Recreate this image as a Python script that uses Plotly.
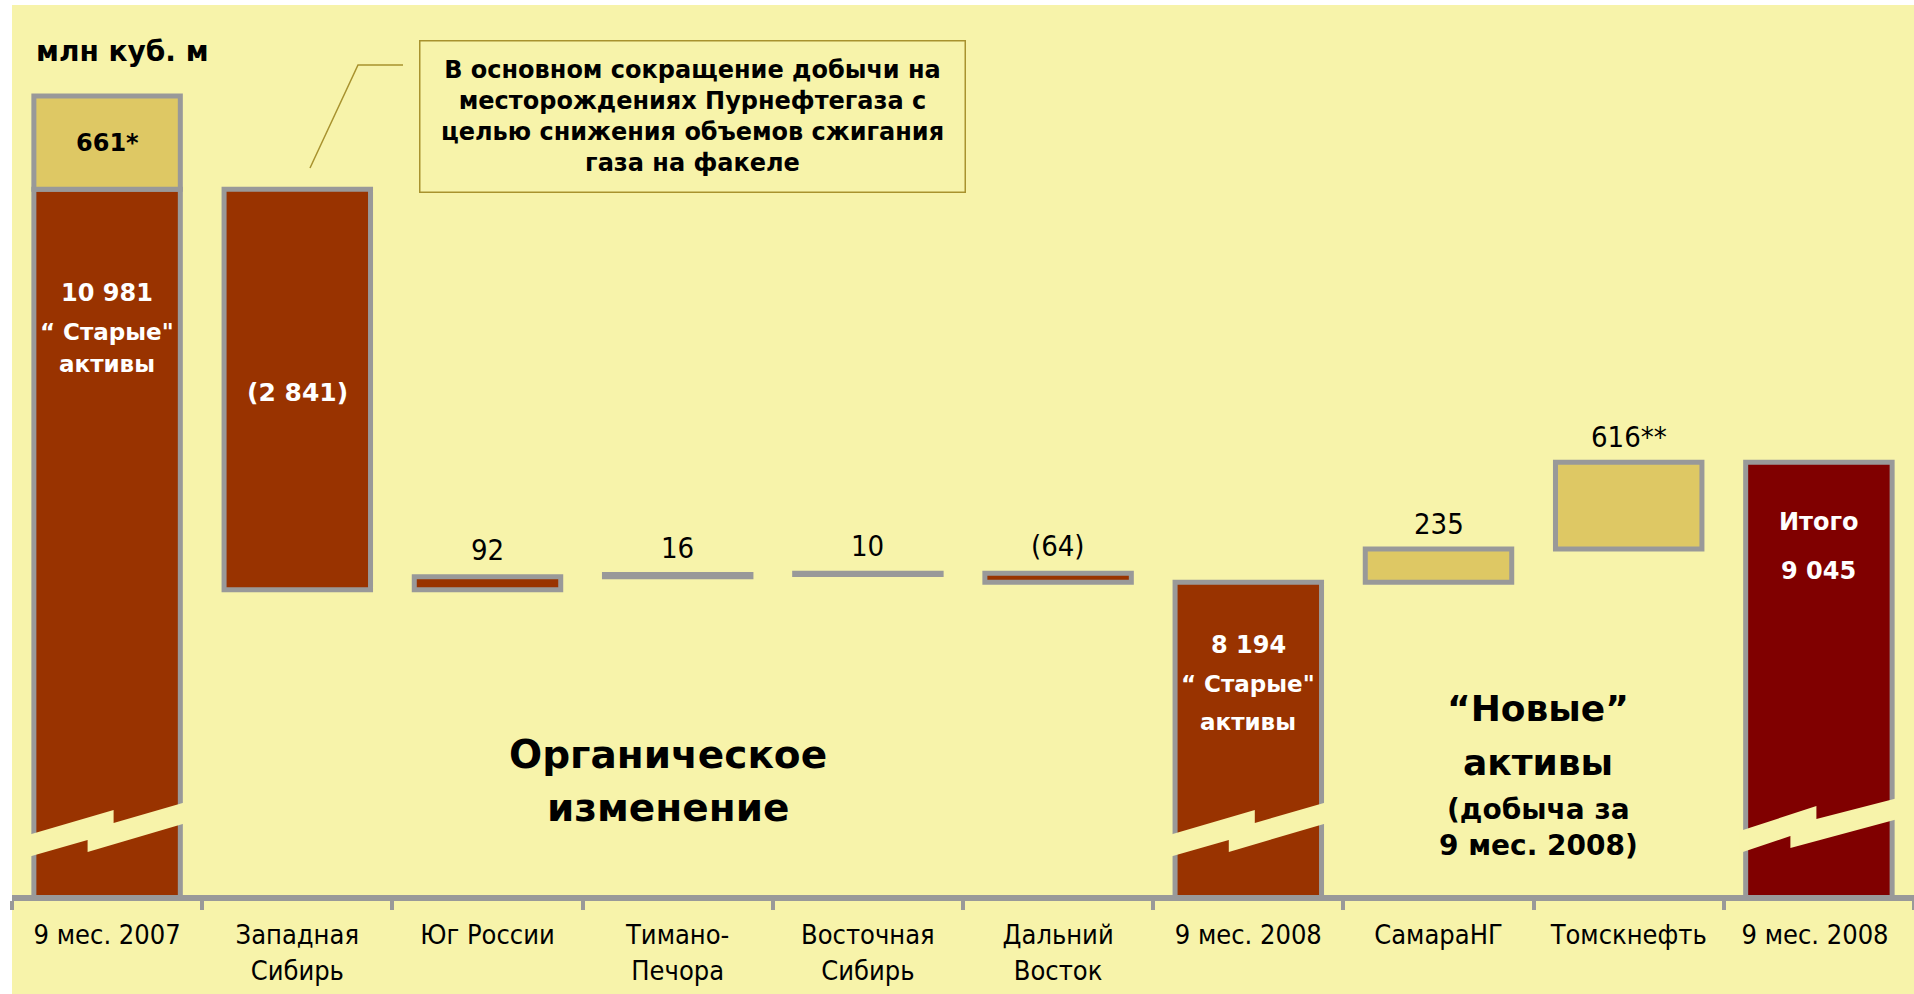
import plotly.graph_objects as go

# ---------------- data ----------------
categories = ["9 мес. 2007", "Западная<br>Сибирь", "Юг России", "Тимано-<br>Печора",
              "Восточная<br>Сибирь", "Дальний<br>Восток", "9 мес. 2008", "СамараНГ",
              "Томскнефть", "9 мес. 2008 "]
start_old = 10981          # "старые" активы 9 мес. 2007
start_extra = 661          # 661*
organic_changes = [-2841, 92, 16, 10, -64]
mid_total = 8194           # 9 мес. 2008 "старые" активы
new_assets = [235, 616]    # СамараНГ, Томскнефть
new_labels = ["235", "616**"]
final_total = 9045

# ---------------- styling constants ----------------
W, H = 1914, 994
BG = "#F7F3AA"
RED = "#993300"
DARK = "#800000"
GOLD = "#DEC864"
GRAY = "#999999"
CALLOUT = "#A8922E"
BOLD = "DejaVu Sans"
REG = "Liberation Sans Narrow, DejaVu Sans Condensed, Liberation Sans, sans-serif"

AXIS_PX = 895            # pixel row of x-axis line (from top)
X0_PX = 12
PPU = 0.141              # pixels per unit
TOP_REF_PX = 96          # pixel row of the 11 642 level
YMAX = (start_old + start_extra) + TOP_REF_PX / PPU
YMIN = YMAX - AXIS_PX / PPU
CAT_PX = (W - X0_PX) / len(categories)


def dv(px):
    """pixels -> data units"""
    return px / PPU


def fmt(v):
    s = f"{abs(v):,}".replace(",", " ")
    return f"({s})" if v < 0 else s


# ---------------- build waterfall geometry from data ----------------
bases, heights, colors = [], [], []
bases.append(0); heights.append(start_old); colors.append(RED)
cum = start_old
org_tops = []
for ch in organic_changes:
    if ch < 0:
        bases.append(cum + ch); heights.append(-ch)
    else:
        bases.append(cum); heights.append(ch)
    org_tops.append(max(cum, cum + ch))
    cum += ch
    colors.append(RED)
colors[3] = GRAY
colors[4] = GRAY
bases.append(0); heights.append(mid_total); colors.append(RED)
cum = mid_total
new_tops = []
for v in new_assets:
    bases.append(cum); heights.append(v); colors.append(GOLD)
    cum += v
    new_tops.append(cum)
bases.append(0); heights.append(final_total); colors.append(DARK)

fig = go.Figure()
fig.add_trace(go.Bar(
    x=categories, y=heights, base=bases, width=0.77,
    marker=dict(color=colors, line=dict(color=GRAY, width=5)),
    hoverinfo="skip", showlegend=False))
fig.add_trace(go.Bar(
    x=[categories[0]], y=[start_extra], base=[start_old], width=0.77,
    marker=dict(color=GOLD, line=dict(color=GRAY, width=5)),
    hoverinfo="skip", showlegend=False))

# ---------------- axis-break zigzags ----------------
def zig(sx):
    # pixel outline of the lightning-shaped break (dx from bar centre, y from top)
    return [(-79, 835), (6.5 + sx, 810), (6.5 + sx, 823), (79, 802), (79, 823),
            (-19.5 + sx, 852), (-19.5 + sx, 840), (-79, 857)]


shapes = []
for idx, shift, sx in [(0, 0, 0), (6, 0, 0), (9, -4, -9)]:
    pts = []
    for dx, py in zig(sx):
        xv = idx + dx / CAT_PX
        yv = YMAX - dv(py + shift)
        pts.append(f"{xv},{yv}")
    path = "M " + " L ".join(pts) + " Z"
    shapes.append(dict(type="path", xref="x", yref="y", path=path,
                       fillcolor=BG, line=dict(width=0), layer="above"))


def px(x, y):
    return f"{x / W},{1 - y / H}"


# callout leader line
shapes.append(dict(type="path", xref="paper", yref="paper",
                   path=f"M {px(403, 65)} L {px(358, 65)} L {px(310, 168)}",
                   line=dict(color=CALLOUT, width=1.5)))
# background panel
shapes.insert(0, dict(type="rect", xref="paper", yref="paper", x0=X0_PX / W, x1=1,
                      y0=0, y1=1 - 5 / H, fillcolor=BG, line=dict(width=0), layer="below"))

# ---------------- annotations ----------------
ann = []


def add(text, x, y, size, color="black", bold=True, xref="x", yref="y",
        xanchor="center", yanchor="middle", **kw):
    ann.append(dict(text=f"<b>{text}</b>" if bold else text, x=x, y=y, xref=xref, yref=yref,
                    showarrow=False, xanchor=xanchor, yanchor=yanchor,
                    font=dict(family=BOLD if bold else REG, size=size, color=color), **kw))


def addp(text, xp, yp, size, **kw):
    add(text, xp / W, 1 - yp / H, size, xref="paper", yref="paper", **kw)


addp("млн куб. м", 34, 51, 28, xanchor="left")
add(f"{start_extra}*", 0, start_old + start_extra / 2, 24)
add(fmt(start_old), 0, start_old - dv(104), 24, "white")
add("“ Старые\"", 0, start_old - dv(143), 23, "white")
add("активы", 0, start_old - dv(175), 23, "white")
add(fmt(organic_changes[0]), 1, bases[1] + heights[1] / 2, 25, "white", yshift=-3)
for k in range(1, 5):
    add(fmt(organic_changes[k]), k + 1, org_tops[k], 29, bold=False,
        yanchor="bottom", yshift=8)
add(fmt(mid_total), 6, mid_total - dv(63), 24, "white")
add("“ Старые\"", 6, mid_total - dv(102), 23, "white")
add("активы", 6, mid_total - dv(140), 23, "white")
for k, lab in enumerate(new_labels):
    add(lab, 7 + k, new_tops[k], 29, bold=False, yanchor="bottom", yshift=6)
add("Итого", 9, final_total - dv(60), 24, "white")
add(fmt(final_total), 9, final_total - dv(109), 24, "white")

addp("Органическое", 668, 754, 39)
addp("изменение", 668, 807, 39)
addp("“Новые”", 1538, 708, 36)
addp("активы", 1538, 762, 36)
addp("(добыча за", 1538, 809, 28)
addp("9 мес. 2008)", 1538, 845, 28)

ann.append(dict(
    text="<b>В основном сокращение добычи на<br>месторождениях Пурнефтегаза с<br>"
         "целью снижения объемов сжигания<br>газа на факеле</b>",
    x=692.5 / W, y=1 - 117 / H, xref="paper", yref="paper", showarrow=False,
    xanchor="center", yanchor="middle",
    font=dict(family=BOLD, size=24, color="black"), align="center",
    width=540, height=146, borderpad=2, bordercolor=CALLOUT, borderwidth=1.5,
    bgcolor=BG))

fig.update_layout(
    width=W, height=H, margin=dict(l=0, r=0, t=0, b=0),
    paper_bgcolor="white", plot_bgcolor="rgba(0,0,0,0)",
    barmode="overlay",
    shapes=shapes, annotations=ann,
    xaxis=dict(type="category", domain=[X0_PX / W, 1], range=[-0.5, len(categories) - 0.5],
               showline=True, linecolor=GRAY, linewidth=6, ticks="outside",
               tickson="boundaries", ticklen=9, tickwidth=4, tickcolor=GRAY,
               ticklabelstandoff=11,
               tickfont=dict(family=REG, size=27, color="black"), showgrid=False,
               zeroline=False, fixedrange=True),
    yaxis=dict(domain=[(H - AXIS_PX) / H, 1], range=[YMIN, YMAX], visible=False,
               showgrid=False, zeroline=False, fixedrange=True),
)

fig.write_html("out.html", config={"displayModeBar": False},
               post_script="document.body.style.margin='0';document.body.style.overflow='hidden';")
